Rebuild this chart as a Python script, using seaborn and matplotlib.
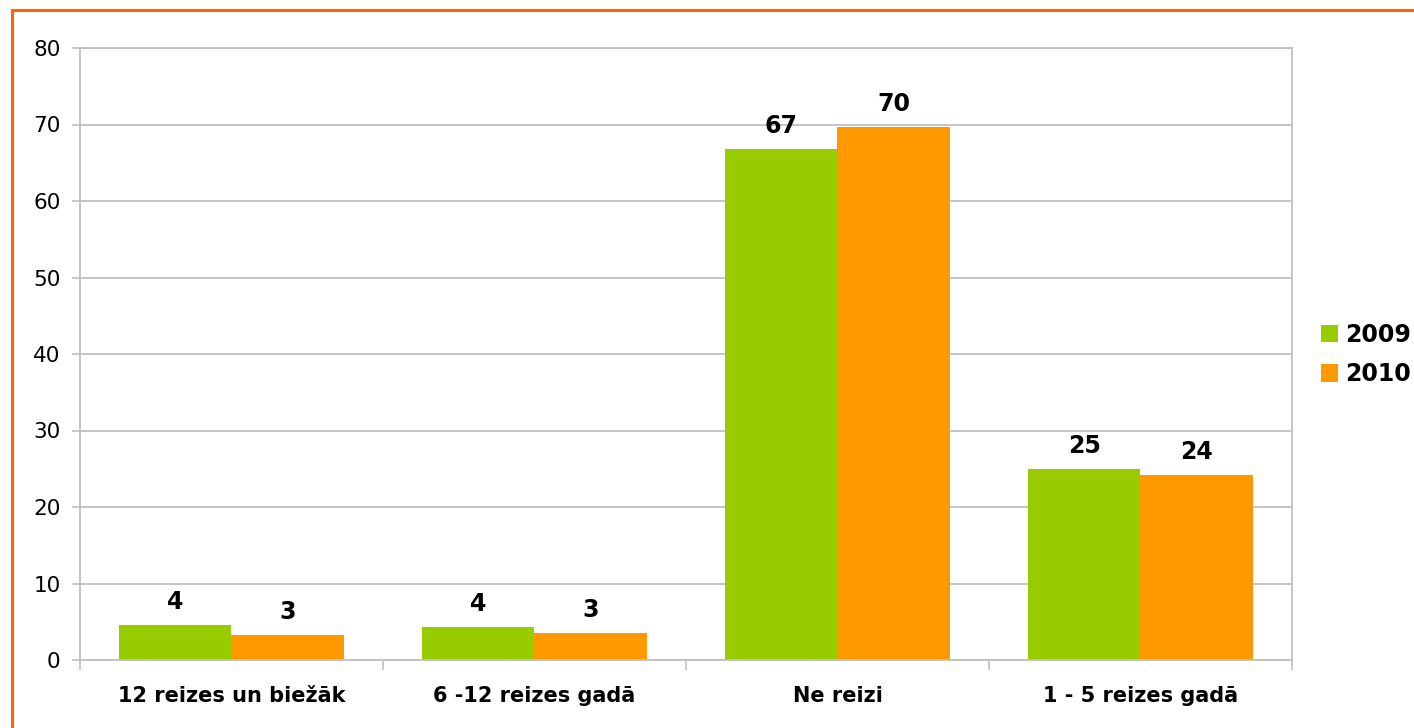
import matplotlib

matplotlib.use("Agg")
import matplotlib.pyplot as plt
import pandas as pd
import seaborn as sns
from matplotlib.patches import Rectangle

categories = ["12 reizes un biežāk", "6 -12 reizes gadā", "Ne reizi", "1 - 5 reizes gadā"]
years = ["2009", "2010"]
values_2009 = [4.6, 4.3, 66.8, 25.0]
values_2010 = [3.3, 3.5, 69.7, 24.2]
labels_2009 = ["4", "4", "67", "25"]
labels_2010 = ["3", "3", "70", "24"]
y_ticks = [0, 10, 20, 30, 40, 50, 60, 70, 80]

GREEN = "#99CC00"
ORANGE = "#FF9900"
GRID = "#C0C0C0"

df = pd.DataFrame({
    "category": categories * 2,
    "year": [years[0]] * 4 + [years[1]] * 4,
    "value": values_2009 + values_2010,
})

sns.set_theme(style="white")
plt.rcParams["font.family"] = ["DejaVu Sans"]

fig = plt.figure(figsize=(14.14, 7.28), dpi=100)
ax = fig.add_axes([80 / 1414, 68 / 728, 1212 / 1414, 612 / 728])

sns.barplot(data=df, x="category", y="value", hue="year", order=categories,
            hue_order=years, palette=[GREEN, ORANGE], width=0.742,
            saturation=1, linewidth=0, edgecolor="none", ax=ax, legend=True)

for container, labs in zip(ax.containers, [labels_2009, labels_2010]):
    ax.bar_label(container, labels=labs, padding=8, fontsize=17,
                 fontweight="bold", color="black")

ax.set_ylim(0, 80)
ax.set_xlim(-0.5, len(categories) - 0.5)
ax.set_yticks(y_ticks)
ax.yaxis.grid(True, color=GRID, linewidth=1.3)
ax.set_axisbelow(True)
ax.set_xlabel("")
ax.set_ylabel("")

ax.tick_params(axis="y", labelsize=15.5, length=6, width=1.2, color=GRID,
               labelcolor="black", pad=8, left=True)
ax.tick_params(axis="x", which="major", length=0, pad=19, labelsize=15,
               labelcolor="black")
for t in ax.get_xticklabels():
    t.set_fontweight("bold")
ax.set_xticks([i - 0.5 for i in range(len(categories) + 1)], minor=True)
ax.tick_params(axis="x", which="minor", length=7, width=1.2, color=GRID,
               bottom=True)

for side in ["left", "bottom", "right", "top"]:
    ax.spines[side].set_color(GRID)
    ax.spines[side].set_linewidth(1.3)

handles, lbls = ax.get_legend_handles_labels()
ax.legend(handles, lbls, loc="center left", bbox_to_anchor=(1.016, 0.499),
          frameon=False, prop={"weight": "bold", "size": 17},
          handlelength=0.72, handleheight=0.75, handletextpad=0.3,
          labelspacing=0.65, borderaxespad=0, labelcolor="black")

# orange frame round the chart
fig.patches.append(Rectangle((12 / 1414, -0.05), 1.2, (718 / 728) + 0.05,
                             transform=fig.transFigure, fill=False,
                             edgecolor="#FF6600", linewidth=2.2))

fig.savefig("out.png", dpi=100)
